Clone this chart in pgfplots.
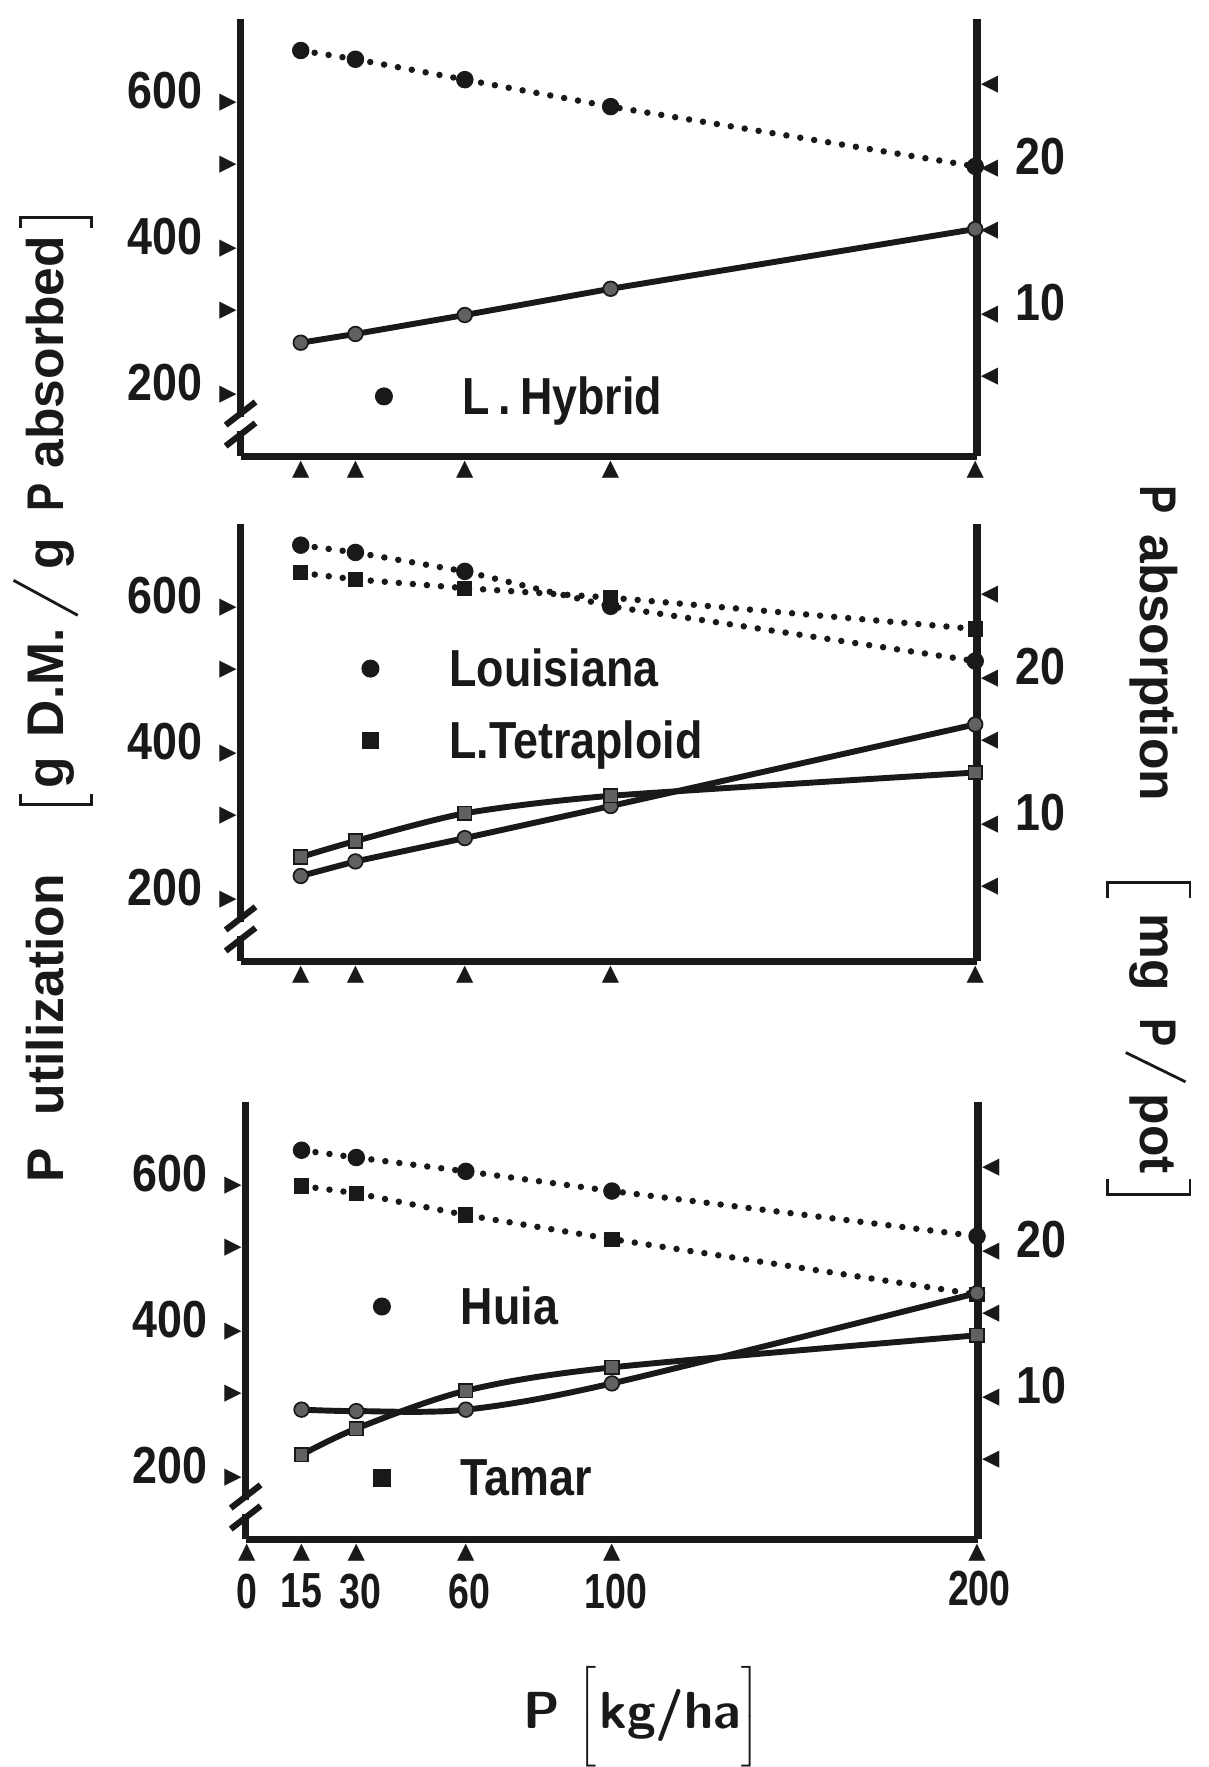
\documentclass[border=0pt]{standalone}
\usepackage{pgfplots}
\pgfplotsset{compat=1.18}
\usepackage{graphicx}
\usepackage{fontspec}
\setmainfont{Liberation Sans}[FakeStretch=0.86]
\newfontfamily\cond{Liberation Sans}[FakeStretch=0.76]
\newfontfamily\lab{Liberation Sans}
\newfontfamily\sym{DejaVu Sans}
\newcommand{\tr}{{\sym\fontsize{8}{8}\selectfont ▶}}
\newcommand{\tl}{{\sym\fontsize{8}{8}\selectfont ◀}}
\newcommand{\tu}{{\sym\fontsize{8}{8}\selectfont ▲}}
\newcommand{\brk}[2]{$\left#1\vrule height #2 depth #2 width 0pt\right.$}
\definecolor{ink}{gray}{0.1}
\definecolor{mid}{gray}{0.38}
\pgfplotsset{
  legimg/.style={legend image code/.code={\draw[mark repeat=2,mark phase=2,##1] plot coordinates {(0pt,1.4pt) (8pt,1.4pt) (16pt,1.4pt)};}},
  base/.style={scale only axis, width=261.4pt, height=155.2pt, anchor=south west,
    xmin=-1.5, xmax=200.5, clip=false, major tick length=0pt,
    axis line style={line width=2.6pt, ink, -},
    tick label style={font=\bfseries\fontsize{18.5}{19}\selectfont, text=ink},
  },
  leftax/.style={base, ymin=100, ymax=700,
    axis x line*=bottom, axis y line*=left,
    ytick={200,300,400,500,600},
    yticklabels={200\hspace{6pt}\tr, \tr, 400\hspace{6pt}\tr, \tr, 600\hspace{6pt}\tr},
    yticklabel style={inner xsep=1.2pt},
    xticklabel style={inner ysep=1.5pt},
    legend style={draw=none, fill=none, inner sep=0pt, outer sep=0pt, anchor=north west,
      cells={anchor=west},
      nodes={inner sep=0pt, text height=14pt, text depth=4pt, text=ink,
        font=\bfseries\fontsize{18.5}{20}\selectfont}},
  },
  rightax/.style={base, ymin=-0.5, ymax=29.5,
    axis x line=none, axis y line*=right,
    ytick={5,10,15,20,25},
    yticklabels={\tl, \tl\hspace{6pt}10, \tl, \tl\hspace{6pt}20, \tl},
    yticklabel style={inner xsep=1.2pt},
  },
  util/.style={ink, line width=2.3pt, line cap=round, dash pattern=on 0pt off 5pt,
    mark options={solid, fill=ink, draw=ink, line width=0.4pt}},
  absl/.style={ink, line width=2.1pt, mark options={solid, fill=mid, draw=ink, line width=0.6pt}},
  cmk/.style={mark=*, mark size=2.9pt},
  smk/.style={mark=square*, mark size=2.5pt},
  acmk/.style={mark=*, mark size=2.6pt},
  asmk/.style={mark=square*, mark size=2.4pt},
  lc/.style={only marks, mark=*, mark size=3pt, ink, legimg},
  ls/.style={only marks, mark=square*, mark size=2.9pt, ink, legimg},
}
\tikzset{
  ll/.style={rotate=90, anchor=base west, inner sep=0pt, text=ink, font=\lab\bfseries\fontsize{18.3}{19}\selectfont},
  rl/.style={rotate=-90, anchor=base west, inner sep=0pt, text=ink, font=\lab\bfseries\fontsize{18.3}{19}\selectfont},
  br/.style={line width=1pt, ink},
  gap/.style={white, line width=4pt},
}
\begin{document}
\begin{tikzpicture}
\path[use as bounding box] (0,0) rectangle (428.8pt,627.2pt);
% ---------------- top panel: L. Hybrid ----------------
\begin{axis}[leftax, at={(85.4pt,465.2pt)},
  xtick={15,30,60,100,200}, xticklabels={\tu,\tu,\tu,\tu,\tu},
  legend style={at={(axis cs:35.5,211.7)}}]
\addlegendimage{lc}
\addlegendentry{\hspace*{25pt}L\,.\,Hybrid}
\addplot[util, cmk] coordinates {(15,657) (30,645) (60,617) (100,580) (200,498)};
\draw[gap] (rel axis cs:0,0.058) -- (rel axis cs:0,0.09);
\draw[line width=2.2pt, ink] (rel axis cs:0,0.05) ++(-5.3pt,-4.1pt) -- ++(10.6pt,8.2pt);
\draw[line width=2.2pt, ink] (rel axis cs:0,0.098) ++(-5.3pt,-4.1pt) -- ++(10.6pt,8.2pt);
\end{axis}
\begin{axis}[rightax, at={(85.4pt,465.2pt)}]
\addplot[absl, acmk] coordinates {(15,7.3) (30,7.9) (60,9.2) (100,11.0) (200,15.1)};
\end{axis}
% ---------------- middle panel: Louisiana / L.Tetraploid ----------------
\begin{axis}[leftax, at={(85.4pt,286pt)},
  xtick={15,30,60,100,200}, xticklabels={\tu,\tu,\tu,\tu,\tu},
  legend style={at={(axis cs:31.8,531)}, row sep=7.6pt}]
\addlegendimage{lc}
\addlegendentry{\hspace*{25pt}Louisiana}
\addlegendimage{ls}
\addlegendentry{\hspace*{25pt}L.Tetraploid}
\addplot[util, cmk] coordinates {(15,671) (30,661) (60,635) (100,587) (200,512)};
\addplot[util, smk] coordinates {(15,633) (30,624) (60,612) (100,599) (200,556)};
\draw[gap] (rel axis cs:0,0.058) -- (rel axis cs:0,0.09);
\draw[line width=2.2pt, ink] (rel axis cs:0,0.05) ++(-5.3pt,-4.1pt) -- ++(10.6pt,8.2pt);
\draw[line width=2.2pt, ink] (rel axis cs:0,0.098) ++(-5.3pt,-4.1pt) -- ++(10.6pt,8.2pt);
\end{axis}
\begin{axis}[rightax, ymin=-0.15, ymax=29.85, at={(85.4pt,286pt)}]
\addplot[absl, acmk] coordinates {(15,5.7) (30,6.7) (60,8.3) (100,10.5) (200,16.1)};
\addplot[absl, smooth, tension=0.4, asmk] coordinates {(15,7.0) (30,8.1) (60,10.0) (100,11.2) (200,12.8)};
\end{axis}
% ---------------- bottom panel: Huia / Tamar ----------------
\begin{axis}[leftax, at={(87.2pt,80.8pt)}, width=260pt, xmin=-0.3, xmax=200.3,
  xtick={0,15,30,60,100,200},
  xticklabels={\tu,\tu,\tu,\tu,\tu,\tu},
  extra x ticks={0,15,30,60,100,200},
  extra x tick labels={\makebox[9pt][c]{0},15,\hspace*{3.2pt}30,\hspace*{2.4pt}60,\hspace*{2.8pt}100,\raisebox{2.4pt}{\hspace*{1.6pt}200}},
  extra x tick style={major tick length=0pt,
    xticklabel style={anchor=center, yshift=-18.4pt, font=\cond\bfseries\fontsize{17.5}{18}\selectfont}},
  legend style={at={(axis cs:34.7,448.9)}, row sep=42.8pt}]
\addlegendimage{lc}
\addlegendentry{\hspace*{25pt}Huia}
\addlegendimage{ls}
\addlegendentry{\hspace*{25pt}Tamar}
\addplot[util, cmk] coordinates {(15,634) (30,624) (60,605) (100,578) (200,516)};
\addplot[util, smk] coordinates {(15,585) (30,575) (60,545) (100,512) (200,436)};
\draw[gap] (rel axis cs:0,0.058) -- (rel axis cs:0,0.09);
\draw[line width=2.2pt, ink] (rel axis cs:0,0.05) ++(-5.3pt,-4.1pt) -- ++(10.6pt,8.2pt);
\draw[line width=2.2pt, ink] (rel axis cs:0,0.098) ++(-5.3pt,-4.1pt) -- ++(10.6pt,8.2pt);
\end{axis}
\begin{axis}[rightax, at={(87.2pt,80.8pt)}, width=260pt, xmin=-0.3, xmax=200.3]
\addplot[absl, smooth, tension=0.5, acmk] coordinates {(15,8.4) (30,8.3) (60,8.4) (100,10.2) (200,16.4)};
\addplot[absl, smooth, tension=0.5, asmk] coordinates {(15,5.3) (30,7.1) (60,9.7) (100,11.3) (200,13.5)};
\end{axis}
% ---------------- left axis title ----------------
\node[ll] at (22.4pt,207.2pt) {P};
\node[ll] at (22.4pt,231.2pt) {utilization};
\draw[br] (7.2pt,345.2pt) -- (7.2pt,341.6pt) -- (32.4pt,341.6pt) -- (32.4pt,345.2pt);
\node[ll] at (22.4pt,347.2pt) {g\hspace{7pt}D.M.};
\draw[br] (4.8pt,421.2pt) -- (27.6pt,408.8pt);
\node[ll] at (22.4pt,424.8pt) {g};
\node[ll] at (22.4pt,445.6pt) {\scalebox{0.82}[1]{P}};
\node[ll] at (22.4pt,460.8pt) {absorbed};
\draw[br] (7.2pt,546.4pt) -- (7.2pt,550pt) -- (32.4pt,550pt) -- (32.4pt,546.4pt);
% ---------------- right axis title ----------------
\node[rl] at (404.8pt,455.2pt) {\scalebox{0.82}[1]{P}};
\node[rl] at (404.8pt,437.6pt) {absorption};
\draw[br] (393.2pt,308.4pt) -- (393.2pt,314pt) -- (422.4pt,314pt) -- (422.4pt,308.4pt);
\node[rl] at (404.8pt,303.2pt) {mg};
\node[rl] at (404.8pt,266pt) {\scalebox{0.82}[1]{P}};
\draw[br] (399.6pt,253.6pt) -- (420.8pt,243.2pt);
\node[rl] at (404.8pt,239.2pt) {pot};
\draw[br] (393.2pt,208.8pt) -- (393.2pt,203.2pt) -- (422.4pt,203.2pt) -- (422.4pt,208.8pt);
% ---------------- x axis title ----------------
\node[text=ink, font=\sffamily\bfseries\fontsize{18.5}{19}\selectfont] at (228.4pt,17.2pt)
  {P\hspace{6pt}\brk[{15pt}kg/ha\brk]{15pt}};
\end{tikzpicture}
\end{document}
